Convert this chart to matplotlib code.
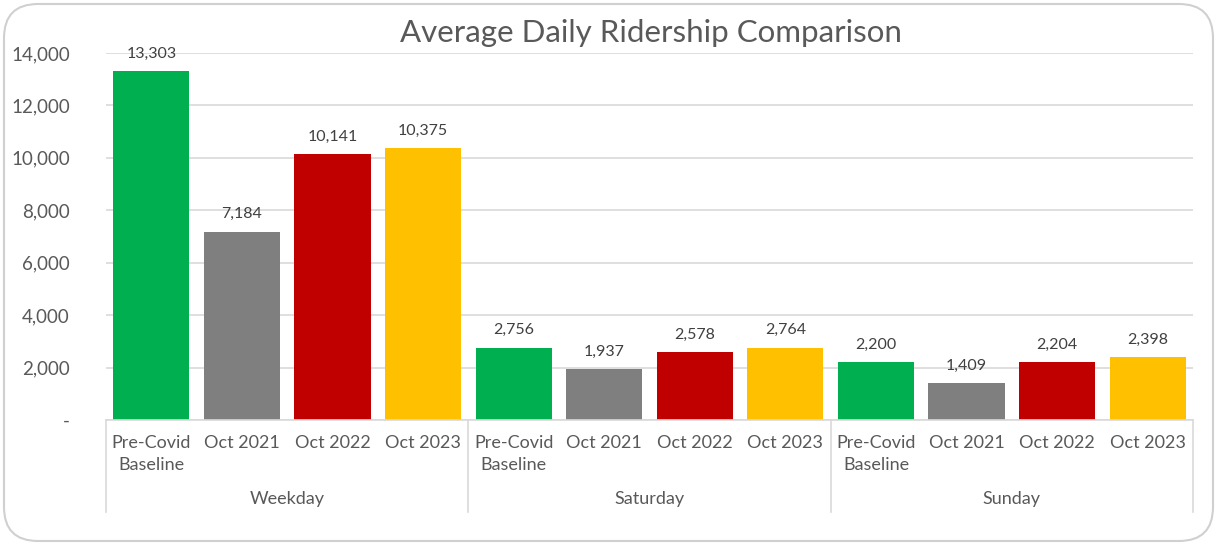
import matplotlib
matplotlib.use("Agg")
import matplotlib.pyplot as plt
from matplotlib.patches import FancyBboxPatch

groups = ["Weekday", "Saturday", "Sunday"]
periods = ["Pre-Covid\nBaseline", "Oct 2021", "Oct 2022", "Oct 2023"]
values = {
    "Weekday": [13303, 7184, 10141, 10375],
    "Saturday": [2756, 1937, 2578, 2764],
    "Sunday": [2200, 1409, 2204, 2398],
}
colors = ["#00B050", "#7F7F7F", "#C00000", "#FFC000"]
yticks = [0, 2000, 4000, 6000, 8000, 10000, 12000, 14000]

plt.rcParams['font.family'] = ['Lato', 'DejaVu Sans']
txt = "#595959"
grid = "#D9D9D9"

W, H = 1217, 545
fig = plt.figure(figsize=(W / 100, H / 100), dpi=100)
border = FancyBboxPatch((4 / W, 4 / H), 1 - 8 / W, 1 - 8 / H,
                        boxstyle="round,pad=0,rounding_size=0.028",
                        transform=fig.transFigure, fc="white",
                        ec="#D0D0D0", lw=1.5, mutation_aspect=W / H, zorder=-5)
fig.patches.append(border)

left, right, bottom, top = 106 / W, 1193 / W, 1 - 420 / H, 1 - 53 / H
ax = fig.add_axes([left, bottom, right - left, top - bottom])
ax.set_facecolor("none")

n = len(periods)
xs, labels = [], []
for g, grp in enumerate(groups):
    for i, v in enumerate(values[grp]):
        x = g * n + i + 0.5
        ax.bar(x, v, width=0.84, color=colors[i], zorder=2)
        ax.text(x, v + 400, f"{v:,}", ha="center", va="bottom", fontsize=11.5, color="#404040")
        xs.append(x)
        labels.append(periods[i])

ax.set_xlim(0, n * len(groups))
ax.set_ylim(0, 14000)
ax.set_yticks(yticks)
ax.set_yticklabels(["-" if t == 0 else f"{t:,}" for t in yticks], fontsize=13.5, color=txt)
ax.yaxis.grid(True, color=grid, lw=1.2, zorder=0)
ax.tick_params(axis="y", length=0, pad=26)
ax.set_xticks(xs)
ax.set_xticklabels(labels, fontsize=13, color=txt, linespacing=1.45)
ax.tick_params(axis="x", length=0, pad=11)
for s in ["top", "right", "left"]:
    ax.spines[s].set_visible(False)
ax.spines["bottom"].set_color(grid)
ax.spines["bottom"].set_linewidth(1.2)

trans = ax.get_xaxis_transform()
for g in range(len(groups) + 1):
    ax.plot([g * n, g * n], [0, -0.25], transform=trans, color=grid, lw=1.2, clip_on=False)
for g, grp in enumerate(groups):
    ax.text(g * n + n / 2, -0.215, grp, transform=trans, ha="center", va="center",
            fontsize=13, color=txt)

fig.text(651 / W, 1 - 33 / H, "Average Daily Ridership Comparison", ha="center", va="center",
         fontsize=22.5, color=txt)

fig.savefig("out.png", dpi=100)
